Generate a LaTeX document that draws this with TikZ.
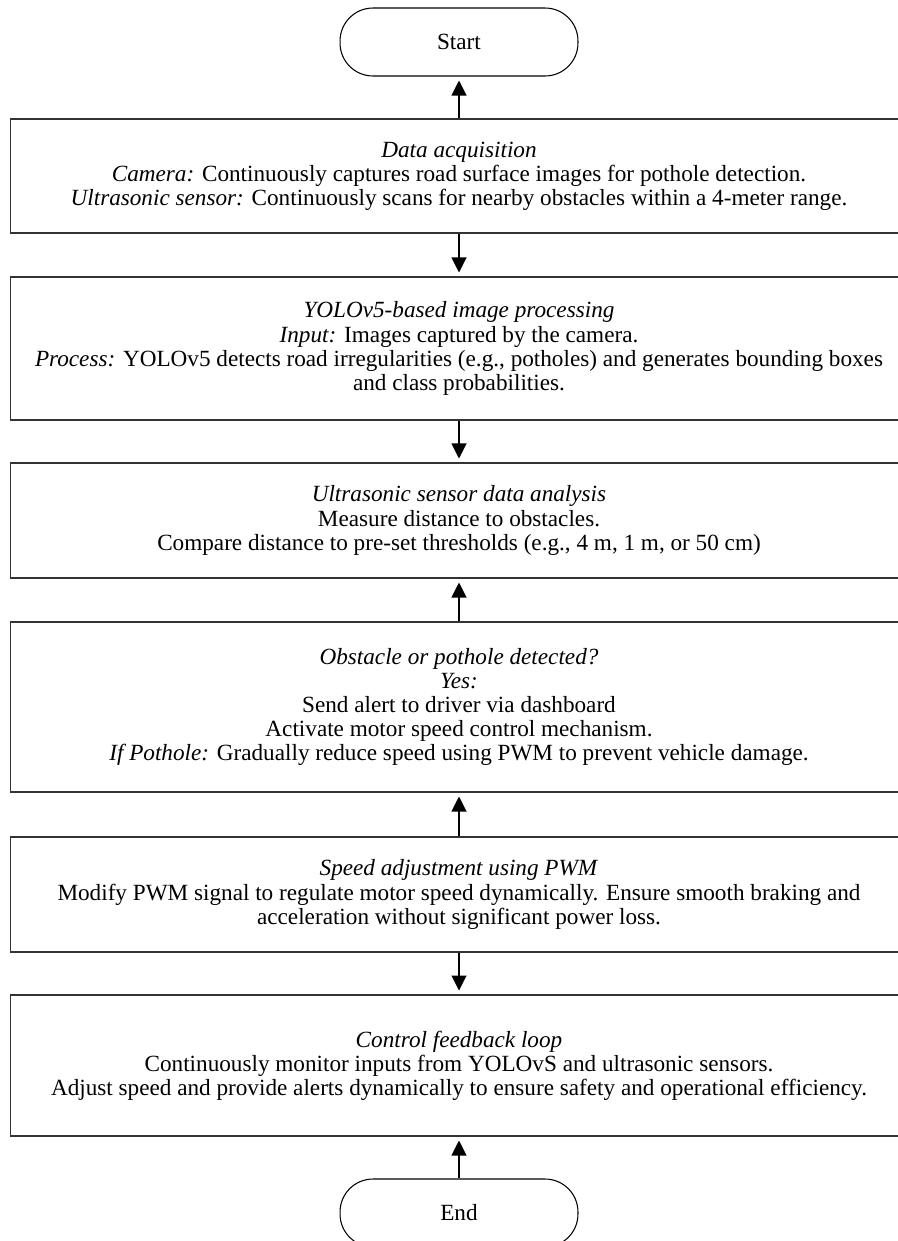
\documentclass[tikz,border=0pt]{standalone}
\usepackage{fontspec}
\setmainfont{Liberation Serif}
\usetikzlibrary{arrows.meta}
\definecolor{framecolor}{HTML}{333333}
\tikzset{
  procbox/.style={draw=framecolor, line width=0.6pt, rectangle, minimum width=17.96cm, align=center, inner sep=2pt, font=\fontsize{13.2}{13.7}\selectfont},
  termbox/.style={draw=black, line width=0.6pt, rectangle, rounded corners=0.66cm, minimum width=4.76cm, minimum height=1.36cm, font=\fontsize{13.2}{13.7}\selectfont},
  flowarrow/.style={draw=black, line width=0.6pt, -{Triangle[width=0.3cm,length=0.3cm]}, shorten >=0.08cm}
}

\begin{document}
\begin{tikzpicture}[x=0.02cm, y=-0.02cm]%
\useasboundingbox (0,0) rectangle (898,1241);%
\node[termbox] (start) at (459, 42) {Start};%
\node[procbox, minimum height=2.28cm] (acq) at (459, 176) {\textit{Data acquisition}\\\textit{Camera:} Continuously captures road surface images for pothole detection.\\\textit{Ultrasonic sensor:} Continuously scans for nearby obstacles within a 4-meter range.};%
\node[procbox, minimum height=2.86cm] (yolo) at (459, 348.5) {\textit{YOLOv5-based image processing}\\\textit{Input:} Images captured by the camera.\\\textit{Process:} YOLOv5 detects road irregularities (e.g., potholes) and generates bounding boxes\\and class probabilities.};%
\node[procbox, minimum height=2.3cm] (sonar) at (459, 520.5) {\textit{Ultrasonic sensor data analysis}\\Measure distance to obstacles.\\Compare distance to pre-set thresholds (e.g., 4 m, 1 m, or 50 cm)};%
\node[procbox, minimum height=3.4cm] (detect) at (459, 707) {\textit{Obstacle or pothole detected?}\\\textit{Yes:}\\Send alert to driver via dashboard\\Activate motor speed control mechanism.\\\textit{If Pothole:} Gradually reduce speed using PWM to prevent vehicle damage.};%
\node[procbox, minimum height=2.3cm] (pwm) at (459, 894.5) {\textit{Speed adjustment using PWM}\\Modify PWM signal to regulate motor speed dynamically. Ensure smooth braking and\\acceleration without significant power loss.};%
\node[procbox, minimum height=2.82cm] (loop) at (459, 1065.5) {\textit{Control feedback loop}\\Continuously monitor inputs from YOLOvS and ultrasonic sensors.\\Adjust speed and provide alerts dynamically to ensure safety and operational efficiency.};%
\node[termbox] (finish) at (459, 1213) {End};%
\draw[flowarrow] (acq.north) -- (start.south);%
\draw[flowarrow] (acq.south) -- (yolo.north);%
\draw[flowarrow] (yolo.south) -- (sonar.north);%
\draw[flowarrow] (detect.north) -- (sonar.south);%
\draw[flowarrow] (pwm.north) -- (detect.south);%
\draw[flowarrow] (pwm.south) -- (loop.north);%
\draw[flowarrow] (finish.north) -- (loop.south);%
\end{tikzpicture}
\end{document}
